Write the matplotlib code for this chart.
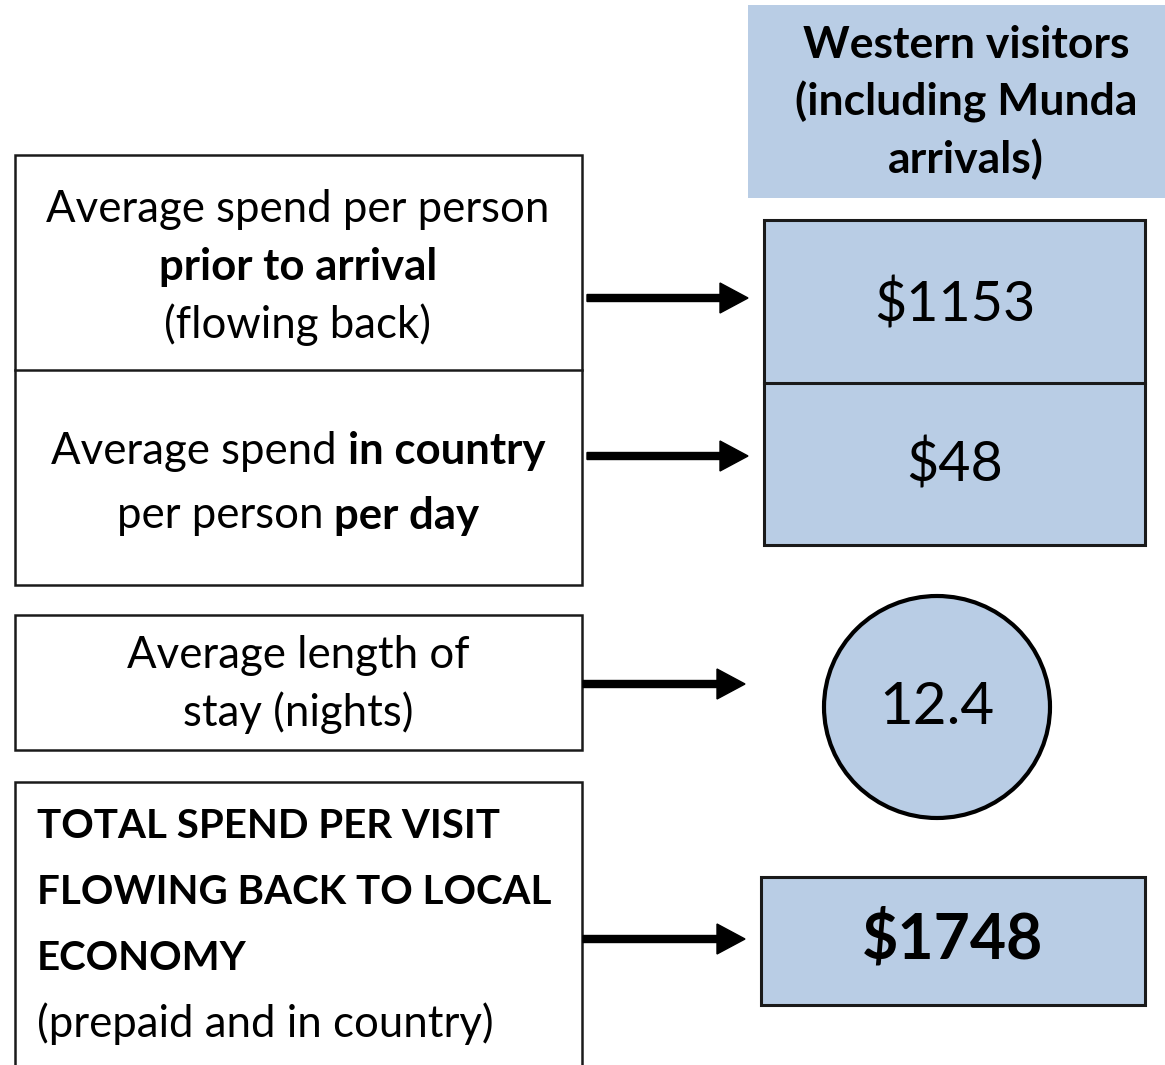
import matplotlib
matplotlib.use("Agg")
import matplotlib.pyplot as plt
from matplotlib.patches import Rectangle, Ellipse

# chart content
header_lines = ["Western visitors", "(including Munda", "arrivals)"]
prior_lines = [[("Average spend per person", "normal")],
               [("prior to arrival", "bold")],
               [("(flowing back)", "normal")]]
daily_lines = [[("Average spend", "normal"), ("in country", "bold")],
               [("per person", "normal"), ("per day", "bold")]]
stay_lines = ["Average length of", "stay (nights)"]
total_lines = [("TOTAL SPEND PER VISIT", "bold"),
               ("FLOWING BACK TO LOCAL", "bold"),
               ("ECONOMY", "bold"),
               ("(prepaid and in country)", "normal")]
prior_spend = 1153
daily_spend = 48
stay_nights = 12.4
total_spend = 1748

FILL = "#b9cde5"
BODY_FONT = "Lato"
BODY_SIZE = 31.5

fig = plt.figure(figsize=(11.65, 10.65), dpi=100)
ax = fig.add_axes([0, 0, 1, 1])
ax.set_xlim(0, 1165)
ax.set_ylim(1065, 0)
ax.axis("off")
renderer = fig.canvas.get_renderer()


def text_width(s, size, weight, family=BODY_FONT):
    t = ax.text(0, 0, s, fontsize=size, fontweight=weight, family=family)
    w = t.get_window_extent(renderer).width
    t.remove()
    return w


def draw_line(x, y, parts, size, ha="center", family=BODY_FONT):
    # a line built from normal and bold pieces
    space = text_width("a a", size, "normal", family) - text_width("aa", size, "normal", family)
    widths = [text_width(s, size, w, family) for s, w in parts]
    total = sum(widths) + space * (len(parts) - 1)
    left = x - total / 2 if ha == "center" else x
    for (s, w), wd in zip(parts, widths):
        ax.text(left, y, s, fontsize=size, fontweight=w, family=family,
                ha="left", va="center")
        left += wd + space


def box(x0, y0, x1, y1, fill="white", lw=1.8):
    ax.add_patch(Rectangle((x0, y0), x1 - x0, y1 - y0, facecolor=fill,
                           edgecolor="#1a1a1a", linewidth=lw))


def arrow(x0, x1, y):
    ax.arrow(x0, y, x1 - x0, 0, width=7, head_width=30, head_length=28,
             length_includes_head=True, color="black")


# header
ax.add_patch(Rectangle((748, 5), 417, 193, facecolor=FILL, edgecolor="none"))
for i, s in enumerate(header_lines):
    ax.text(966, 45 + i * 57, s, fontsize=32, fontweight="bold", family=BODY_FONT,
            ha="center", va="center")

# left boxes
box(15, 155, 582, 585)
ax.plot([15, 582], [370, 370], color="#1a1a1a", lw=1.8)
for i, parts in enumerate(prior_lines):
    draw_line(298, 209 + i * 58, parts, BODY_SIZE)
for i, parts in enumerate(daily_lines):
    draw_line(298, 451 + i * 65, parts, BODY_SIZE)

box(15, 615, 582, 750)
for i, s in enumerate(stay_lines):
    ax.text(298, 655 + i * 58, s, fontsize=BODY_SIZE, family=BODY_FONT,
            ha="center", va="center")

box(15, 782, 582, 1075)
for i, (s, w) in enumerate(total_lines):
    ax.text(37, 826 + i * 66, s, fontsize=29 if w == "bold" else BODY_SIZE,
            fontweight=w, family=BODY_FONT, ha="left", va="center")

# right-hand values
box(764, 220, 1145, 545, fill=FILL, lw=2.2)
ax.plot([764, 1145], [383, 383], color="#1a1a1a", lw=2.2)
ax.text(955, 305, f"${prior_spend}", fontsize=40, family=BODY_FONT,
        ha="center", va="center")
ax.text(955, 465, f"${daily_spend}", fontsize=40, family=BODY_FONT,
        ha="center", va="center")

ax.add_patch(Ellipse((937, 707), 226, 222, facecolor=FILL, edgecolor="black", linewidth=3))
ax.text(937, 708, f"{stay_nights}", fontsize=42, family=BODY_FONT,
        ha="center", va="center")

box(761, 877, 1145, 1005, fill=FILL, lw=2.2)
ax.text(953, 940, f"${total_spend}", fontsize=45, fontweight="bold", family=BODY_FONT,
        ha="center", va="center")

# arrows
arrow(587, 748, 298)
arrow(587, 748, 456)
arrow(583, 745, 684)
arrow(583, 745, 939)

fig.savefig("out.png", dpi=100)
